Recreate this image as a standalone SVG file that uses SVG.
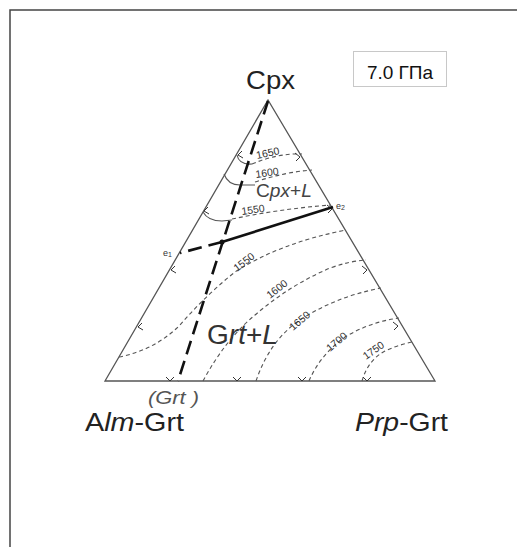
<svg xmlns="http://www.w3.org/2000/svg" width="517" height="547" viewBox="0 0 517 547">
<style>
text{font-family:"Liberation Sans",Arial,sans-serif}
.edge{fill:none;stroke:#555;stroke-width:1.3}
.iso{fill:none;stroke:#555;stroke-width:1.1;stroke-dasharray:4 3}
.arc{fill:none;stroke:#555;stroke-width:1.1}
.tick{fill:none;stroke:#333;stroke-width:1}
.thick{fill:none;stroke:#111;stroke-width:2.6}
.thickd{fill:none;stroke:#111;stroke-width:2.6;stroke-dasharray:14 7}
.num{font-size:10.5px;fill:#333}
.big{fill:#222}
</style>
<rect width="517" height="547" fill="#fff"/>
<path d="M10,547 V10 H517" fill="none" stroke="#444" stroke-width="1.5"/>
<g id="pressure">
<rect x="353.5" y="51.5" width="93" height="35" fill="#fff" stroke="#c8c8c8" stroke-width="1"/>
<text x="400" y="79" font-size="19" text-anchor="middle" fill="#111">7.0 ГПа</text>
</g>
<g id="triangle">
<path class="edge" d="M268,100 L105,381 L435,381 Z"/>
</g>
<g id="isotherms">
<path class="arc" d="M237,155 Q239,165 252,164"/>
<path class="iso" d="M252,164 Q278,153 302,154"/>
<path class="arc" d="M224,174 Q228,185 240,185 L255,185"/>
<path class="iso" d="M255,182 Q285,172 312,170"/>
<path class="arc" d="M203,212 Q208,221 222,221 L232,220"/>
<path class="iso" d="M232,219 Q280,209 330,205"/>
<path class="iso" d="M119,357 Q155,350 180,325 Q205,296 235,272 Q280,243 346,230"/>
<path class="iso" d="M203,381 Q225,340 255,315 Q290,285 330,268 Q350,261 366,260"/>
<path class="iso" d="M256,381 Q270,340 300,320 Q335,297 381,288"/>
<path class="iso" d="M309,381 Q320,355 345,337 Q370,322 399,318"/>
<path class="iso" d="M362,381 Q368,360 385,351 Q398,345 412,342"/>
<text class="num" transform="translate(257,159) rotate(-12)">1650</text>
<text class="num" transform="translate(256,178) rotate(-8)">1600</text>
<text class="num" transform="translate(242,215) rotate(-8)">1550</text>
<text class="num" transform="translate(237,272) rotate(-38)">1550</text>
<text class="num" transform="translate(270,299) rotate(-38)">1600</text>
<text class="num" transform="translate(293,331) rotate(-40)">1650</text>
<text class="num" transform="translate(330,352) rotate(-40)">1700</text>
<text class="num" transform="translate(366,360) rotate(-35)">1750</text>
</g>
<g id="ticks">
<path class="tick" d="M242,151 L238,155 L243,158"/>
<path class="tick" d="M208,207 L204,211 L209,214"/>
<path class="tick" d="M175,266 L171,270 L176,273"/>
<path class="tick" d="M142,323 L138,327 L143,330"/>
<path class="tick" d="M295,153 L300,157 L296,161"/>
<path class="tick" d="M327,205 L332,209 L328,213"/>
<path class="tick" d="M362,266 L367,270 L363,274"/>
<path class="tick" d="M393,322 L398,326 L394,330"/>
<path class="tick" d="M166,377 L170,381 L174,377"/>
<path class="tick" d="M233,377 L237,381 L241,377"/>
<path class="tick" d="M298,377 L302,381 L306,377"/>
<path class="tick" d="M363,377 L367,381 L371,377"/>
</g>
<g id="connectors">
<path class="thickd" d="M268,101 L178,381"/>
<path class="thick" d="M222,242 L333,207"/>
<path class="thickd" d="M222,242 L180,253"/>
<circle cx="222" cy="242" r="2.5" fill="#111"/>
</g>
<g id="labels">
<text x="246" y="89" font-size="25" class="big" textLength="49" lengthAdjust="spacingAndGlyphs">Cpx</text>
<text x="85" y="431" font-size="25" class="big" textLength="99" lengthAdjust="spacingAndGlyphs">A<tspan font-style="italic">lm</tspan>-Grt</text>
<text x="355" y="431" font-size="25" class="big" textLength="93" lengthAdjust="spacingAndGlyphs"><tspan font-style="italic">Prp</tspan>-Grt</text>
<text x="148" y="404" font-size="18" font-style="italic" fill="#555" textLength="51" lengthAdjust="spacingAndGlyphs">(Grt )</text>
<text x="207" y="344" font-size="27" fill="#333" textLength="71" lengthAdjust="spacingAndGlyphs">G<tspan font-style="italic">rt</tspan>+<tspan font-style="italic">L</tspan></text>
<text x="256" y="197" font-size="19" fill="#444" textLength="56" lengthAdjust="spacingAndGlyphs">C<tspan font-style="italic">px</tspan>+<tspan font-style="italic">L</tspan></text>
<text x="163" y="256" font-size="9" fill="#333">e<tspan font-size="7" dy="1">1</tspan></text>
<text x="336" y="209" font-size="9" fill="#333">e<tspan font-size="7" dy="1">2</tspan></text>
</g>
</svg>
